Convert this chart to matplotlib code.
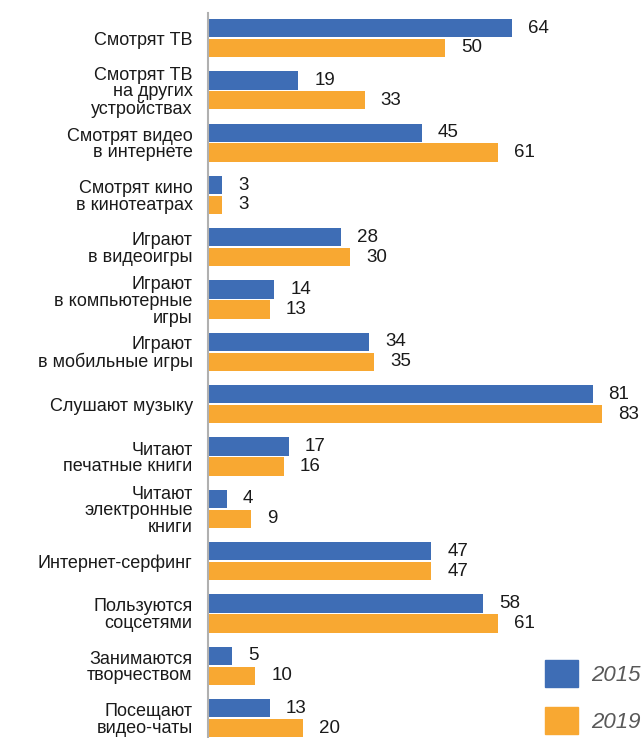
import matplotlib.pyplot as plt
from matplotlib.patches import Patch

categories = ['Смотрят ТВ', 'Смотрят ТВ\nна других\nустройствах', 'Смотрят видео\nв интернете',
              'Смотрят кино\nв кинотеатрах', 'Играют\nв видеоигры', 'Играют\nв компьютерные\nигры',
              'Играют\nв мобильные игры', 'Слушают музыку', 'Читают\nпечатные книги',
              'Читают\nэлектронные\nкниги', 'Интернет-серфинг', 'Пользуются\nсоцсетями',
              'Занимаются\nтворчеством', 'Посещают\nвидео-чаты']
vals_2015 = [64, 19, 45, 3, 28, 14, 34, 81, 17, 4, 47, 58, 5, 13]
vals_2019 = [50, 33, 61, 3, 30, 13, 35, 83, 16, 9, 47, 61, 10, 20]

blue = '#3E6DB5'
orange = '#F8A832'

plt.rcParams['font.family'] = ['Liberation Sans', 'DejaVu Sans']

fig = plt.figure(figsize=(6.41, 7.38), dpi=100)
ax = fig.add_axes([208 / 641, 0, 433 / 641, 1 - 13 / 738])

pos = list(range(len(categories)))
off = 0.19
h = 0.35
b1 = ax.barh([p - off for p in pos], vals_2015, height=h, color=blue)
b2 = ax.barh([p + off for p in pos], vals_2019, height=h, color=orange)

for bars in (b1, b2):
    for rect in bars:
        w = rect.get_width()
        ax.annotate(f'{w:.0f}', (w, rect.get_y() + rect.get_height() / 2),
                    xytext=(16, 0), textcoords='offset pixels',
                    ha='left', va='center', fontsize=13.5, color='#1a1a1a')

ax.set_xlim(0, 91.2)
ax.set_ylim(13.38, -0.478)
ax.set_yticks(pos)
ax.set_yticklabels(categories, fontsize=13, color='#1a1a1a', linespacing=0.97)
ax.tick_params(axis='y', length=0, pad=11)
ax.set_xticks([])
for s in ['top', 'right', 'bottom']:
    ax.spines[s].set_visible(False)
ax.spines['left'].set_color('#b0b0b0')
ax.spines['left'].set_linewidth(1.5)

handles = [Patch(color=blue), Patch(color=orange)]
leg = fig.legend(handles, ['2015', '2019'], loc='upper left',
                 bbox_to_anchor=(545 / 641, 1 - 660 / 738), frameon=False,
                 fontsize=16, handlelength=1.49, handleheight=1.49,
                 labelspacing=0.9, handletextpad=0.6, borderpad=0, borderaxespad=0)
for t in leg.get_texts():
    t.set_color('#595959')
    t.set_style('italic')

fig.savefig('out.png', dpi=100)
